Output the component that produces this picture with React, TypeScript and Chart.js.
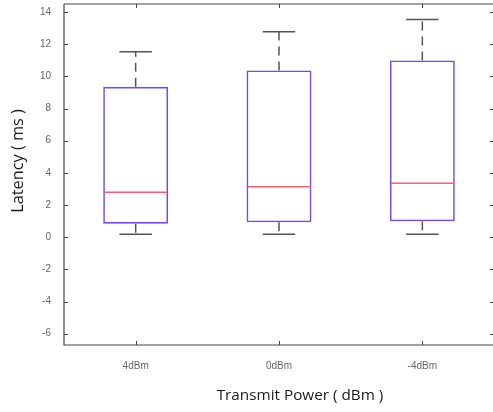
import React, { useEffect, useRef } from "react";
import { Chart, registerables } from "chart.js";

Chart.register(...registerables);

const categories = ["4dBm", "0dBm", "-4dBm"];
const whiskerLow = [0.19, 0.19, 0.19];
const q1 = [0.84, 0.93, 0.99];
const median = [2.8, 3.14, 3.35];
const q3 = [9.35, 10.37, 10.99];
const whiskerHigh = [11.53, 12.77, 13.54];
const yTicks = [-6, -4, -2, 0, 2, 4, 6, 8, 10, 12, 14];
const yMin = -6.7;
const yMax = 14.5;

const BOX_COLOR = "#7446ff";
const MEDIAN_COLOR = "#ff5c70";
const WHISKER_COLOR = "#555555";
const AXIS_COLOR = "#444444";

const boxPlotPlugin = {
  id: "boxExtras",
  afterDatasetsDraw(chart: any) {
    const { ctx, scales, chartArea } = chart;
    const x = scales.x;
    const y = scales.y;
    const meta = chart.getDatasetMeta(0);
    ctx.save();
    categories.forEach((_, i) => {
      const bar = meta.data[i];
      const cx = x.getPixelForValue(i);
      const half = bar.width / 2;
      const capHalf = half / 2;
      ctx.strokeStyle = MEDIAN_COLOR;
      ctx.lineWidth = 1.5;
      ctx.setLineDash([]);
      const my = y.getPixelForValue(median[i]);
      ctx.beginPath();
      ctx.moveTo(cx - half + 1, my);
      ctx.lineTo(cx + half - 1, my);
      ctx.stroke();
      ctx.strokeStyle = WHISKER_COLOR;
      ctx.lineWidth = 1.5;
      const yq3 = y.getPixelForValue(q3[i]);
      const yHi = y.getPixelForValue(whiskerHigh[i]);
      const yq1 = y.getPixelForValue(q1[i]);
      const yLo = y.getPixelForValue(whiskerLow[i]);
      ctx.setLineDash([9, 6]);
      ctx.beginPath();
      ctx.moveTo(cx, yq3);
      ctx.lineTo(cx, yHi);
      ctx.stroke();
      ctx.beginPath();
      ctx.moveTo(cx, yq1);
      ctx.lineTo(cx, yLo);
      ctx.stroke();
      ctx.setLineDash([]);
      ctx.beginPath();
      ctx.moveTo(cx - capHalf, yHi);
      ctx.lineTo(cx + capHalf, yHi);
      ctx.moveTo(cx - capHalf, yLo);
      ctx.lineTo(cx + capHalf, yLo);
      ctx.stroke();
    });
    ctx.strokeStyle = AXIS_COLOR;
    ctx.lineWidth = 1.2;
    ctx.setLineDash([]);
    ctx.beginPath();
    ctx.moveTo(chartArea.left, chartArea.top);
    ctx.lineTo(chartArea.right, chartArea.top);
    ctx.moveTo(chartArea.left, chartArea.top);
    ctx.lineTo(chartArea.left, chartArea.bottom);
    ctx.lineTo(chartArea.right, chartArea.bottom);
    ctx.lineTo(chartArea.right, chartArea.top);
    ctx.stroke();
    ctx.lineWidth = 1;
    ctx.beginPath();
    yTicks.forEach((v) => {
      const py = Math.round(y.getPixelForValue(v)) + 0.5;
      ctx.moveTo(chartArea.left, py);
      ctx.lineTo(chartArea.left + 4, py);
      ctx.moveTo(chartArea.right, py);
      ctx.lineTo(chartArea.right - 4, py);
    });
    categories.forEach((_, i) => {
      const px = Math.round(x.getPixelForValue(i)) + 0.5;
      ctx.moveTo(px, chartArea.bottom);
      ctx.lineTo(px, chartArea.bottom - 4);
      ctx.moveTo(px, chartArea.top);
      ctx.lineTo(px, chartArea.top + 4);
    });
    ctx.stroke();
    ctx.fillStyle = "#1a1a1a";
    ctx.textAlign = "center";
    ctx.textBaseline = "middle";
    ctx.font = "15.3px 'Open Sans'";
    ctx.fillText("Transmit Power ( dBm )", 300, 396);
    ctx.translate(18, 161);
    ctx.rotate(-Math.PI / 2);
    ctx.font = "16.3px 'Open Sans'";
    ctx.fillText("Latency ( ms )", 0, 0);
    ctx.restore();
  },
};

export default function App() {
  const ref = useRef<HTMLCanvasElement | null>(null);
  useEffect(() => {
    if (!ref.current) return;
    const chart = new Chart(ref.current, {
      type: "bar",
      data: {
        labels: categories,
        datasets: [
          {
            data: categories.map((_, i) => [q1[i], q3[i]]) as any,
            backgroundColor: "rgba(0,0,0,0)",
            borderColor: BOX_COLOR,
            borderWidth: 1.6,
            borderSkipped: false,
            barPercentage: 0.453,
            categoryPercentage: 1,
          },
        ],
      },
      options: {
        responsive: false,
        animation: false,
        events: [],
        layout: { padding: { top: 4, right: 2, left: 0, bottom: 0 } },
        plugins: { legend: { display: false }, tooltip: { enabled: false }, title: { display: false } },
        scales: {
          x: {
            offset: true,
            grid: { display: false },
            border: { display: false },
            ticks: {
              color: "#666",
              padding: 7,
              font: { family: "'Liberation Sans', Arial", size: 10 },
            },
            afterFit(scale: any) {
              scale.height = 67;
              scale.paddingLeft = 0;
              scale.paddingRight = 0;
            },
          },
          y: {
            min: yMin,
            max: yMax,
            grid: { display: false },
            border: { display: false },
            afterBuildTicks(scale: any) {
              scale.ticks = yTicks.map((v) => ({ value: v }));
            },
            ticks: {
              color: "#666",
              padding: 5,
              font: { family: "'Liberation Sans', Arial", size: 10 },
            },
            afterFit(scale: any) {
              scale.width = 64;
              scale.paddingTop = 0;
              scale.paddingBottom = 0;
            },
          },
        },
      },
      plugins: [boxPlotPlugin],
    });
    return () => chart.destroy();
  }, []);
  return (
    <div style={{ position: "fixed", left: 0, top: 0, width: 493, height: 412, overflow: "hidden", background: "#fff" }}>
      <canvas ref={ref} width={496} height={412} style={{ display: "block" }} />
    </div>
  );
}
